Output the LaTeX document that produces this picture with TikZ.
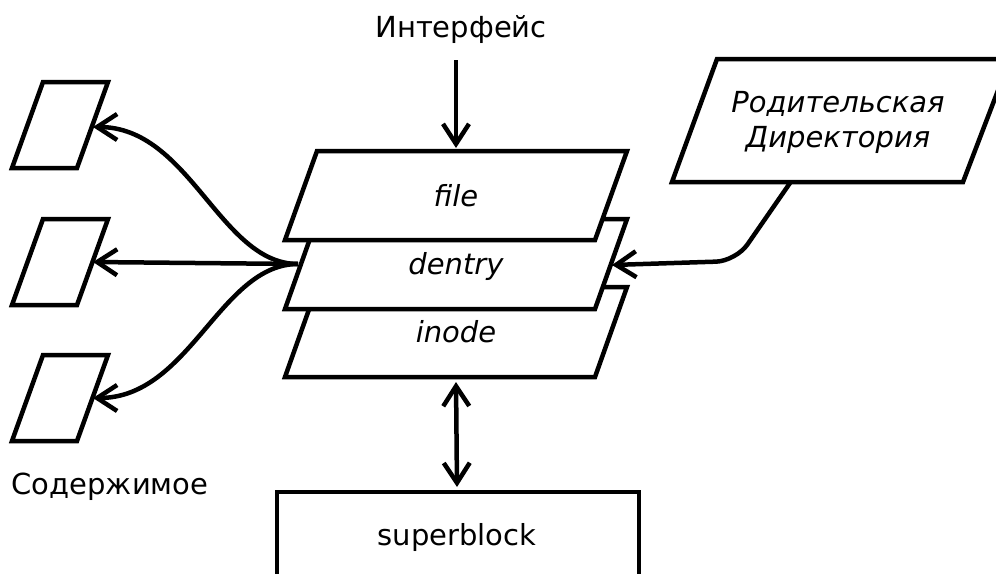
\documentclass[tikz,border=0pt]{standalone}
\usepackage{fontspec}
\setmainfont{DejaVu Sans}
\usetikzlibrary{arrows.meta}
\begin{document}
\begin{tikzpicture}[x=1pt,y=-1pt, line width=4.5pt, line join=miter,
  >={Straight Barb[length=20pt,width=26pt]},
  shapeline/.style={draw=black, fill=white},
  lbl/.style={font=\fontsize{29}{35}\selectfont, inner sep=0pt, anchor=base},
  ilbl/.style={font=\fontsize{29}{35}\selectfont\itshape, inner sep=0pt, anchor=base},
  conn/.style={draw, ->}]
\useasboundingbox (0,0) rectangle (996,573);

% small content parallelograms
\foreach \t/\n in {82/c1,219/c2,355/c3}{
  \draw[shapeline] (43,\t) -- (108,\t) -- (77,\t+86) -- (12,\t+86) -- cycle;
}
\coordinate (c1) at (93,127);
\coordinate (c2) at (93,262);
\coordinate (c3) at (93,398);

% stacked parallelograms
\draw[shapeline] (317,287) -- (627,287) -- (595,377) -- (285,377) -- cycle;
\draw[shapeline] (317,219) -- (627,219) -- (595,309) -- (285,309) -- cycle;
\draw[shapeline] (317,151) -- (627,151) -- (595,240) -- (285,240) -- cycle;
\node[ilbl] (file) at (456,206) {file};
\node[ilbl] (dentry) at (456,274) {dentry};
\node[ilbl] (inode) at (456,342) {inode};
\coordinate (dl) at (298,264);
\coordinate (dr) at (612,265);
\coordinate (ftop) at (456,148);
\coordinate (ibot) at (456,382);

% parent directory
\draw[shapeline] (717,59) -- (1010,59) -- (963,182) -- (672,182) -- cycle;
\node[ilbl] (par1) at (838,112) {Родительская};
\node[ilbl] (par2) at (838,147) {Директория};
\coordinate (pbot) at (790,183);

% superblock
\draw[shapeline] (277,600) -- (277,492) -- (639,492) -- (639,600);
\node[lbl] (sb) at (457,545) {superblock};
\coordinate (sbtop) at (457,487);

% labels
\node[lbl] (iface) at (461,37) {Интерфейс};
\coordinate (ifbot) at (456,60);
\node[lbl] (content) at (110,494) {Содержимое};

% connectors
\draw[->] (ifbot) -- (ftop);
\draw[<->] (ibot) -- (sbtop);
\draw[->] (dl) .. controls (220,264) and (190,127) .. (c1);
\draw[->] (dl) -- (c2);
\draw[->] (dl) .. controls (220,264) and (190,398) .. (c3);
\draw[->, rounded corners=20pt] (pbot) -- (736,261) -- (dr);
\end{tikzpicture}
\end{document}
